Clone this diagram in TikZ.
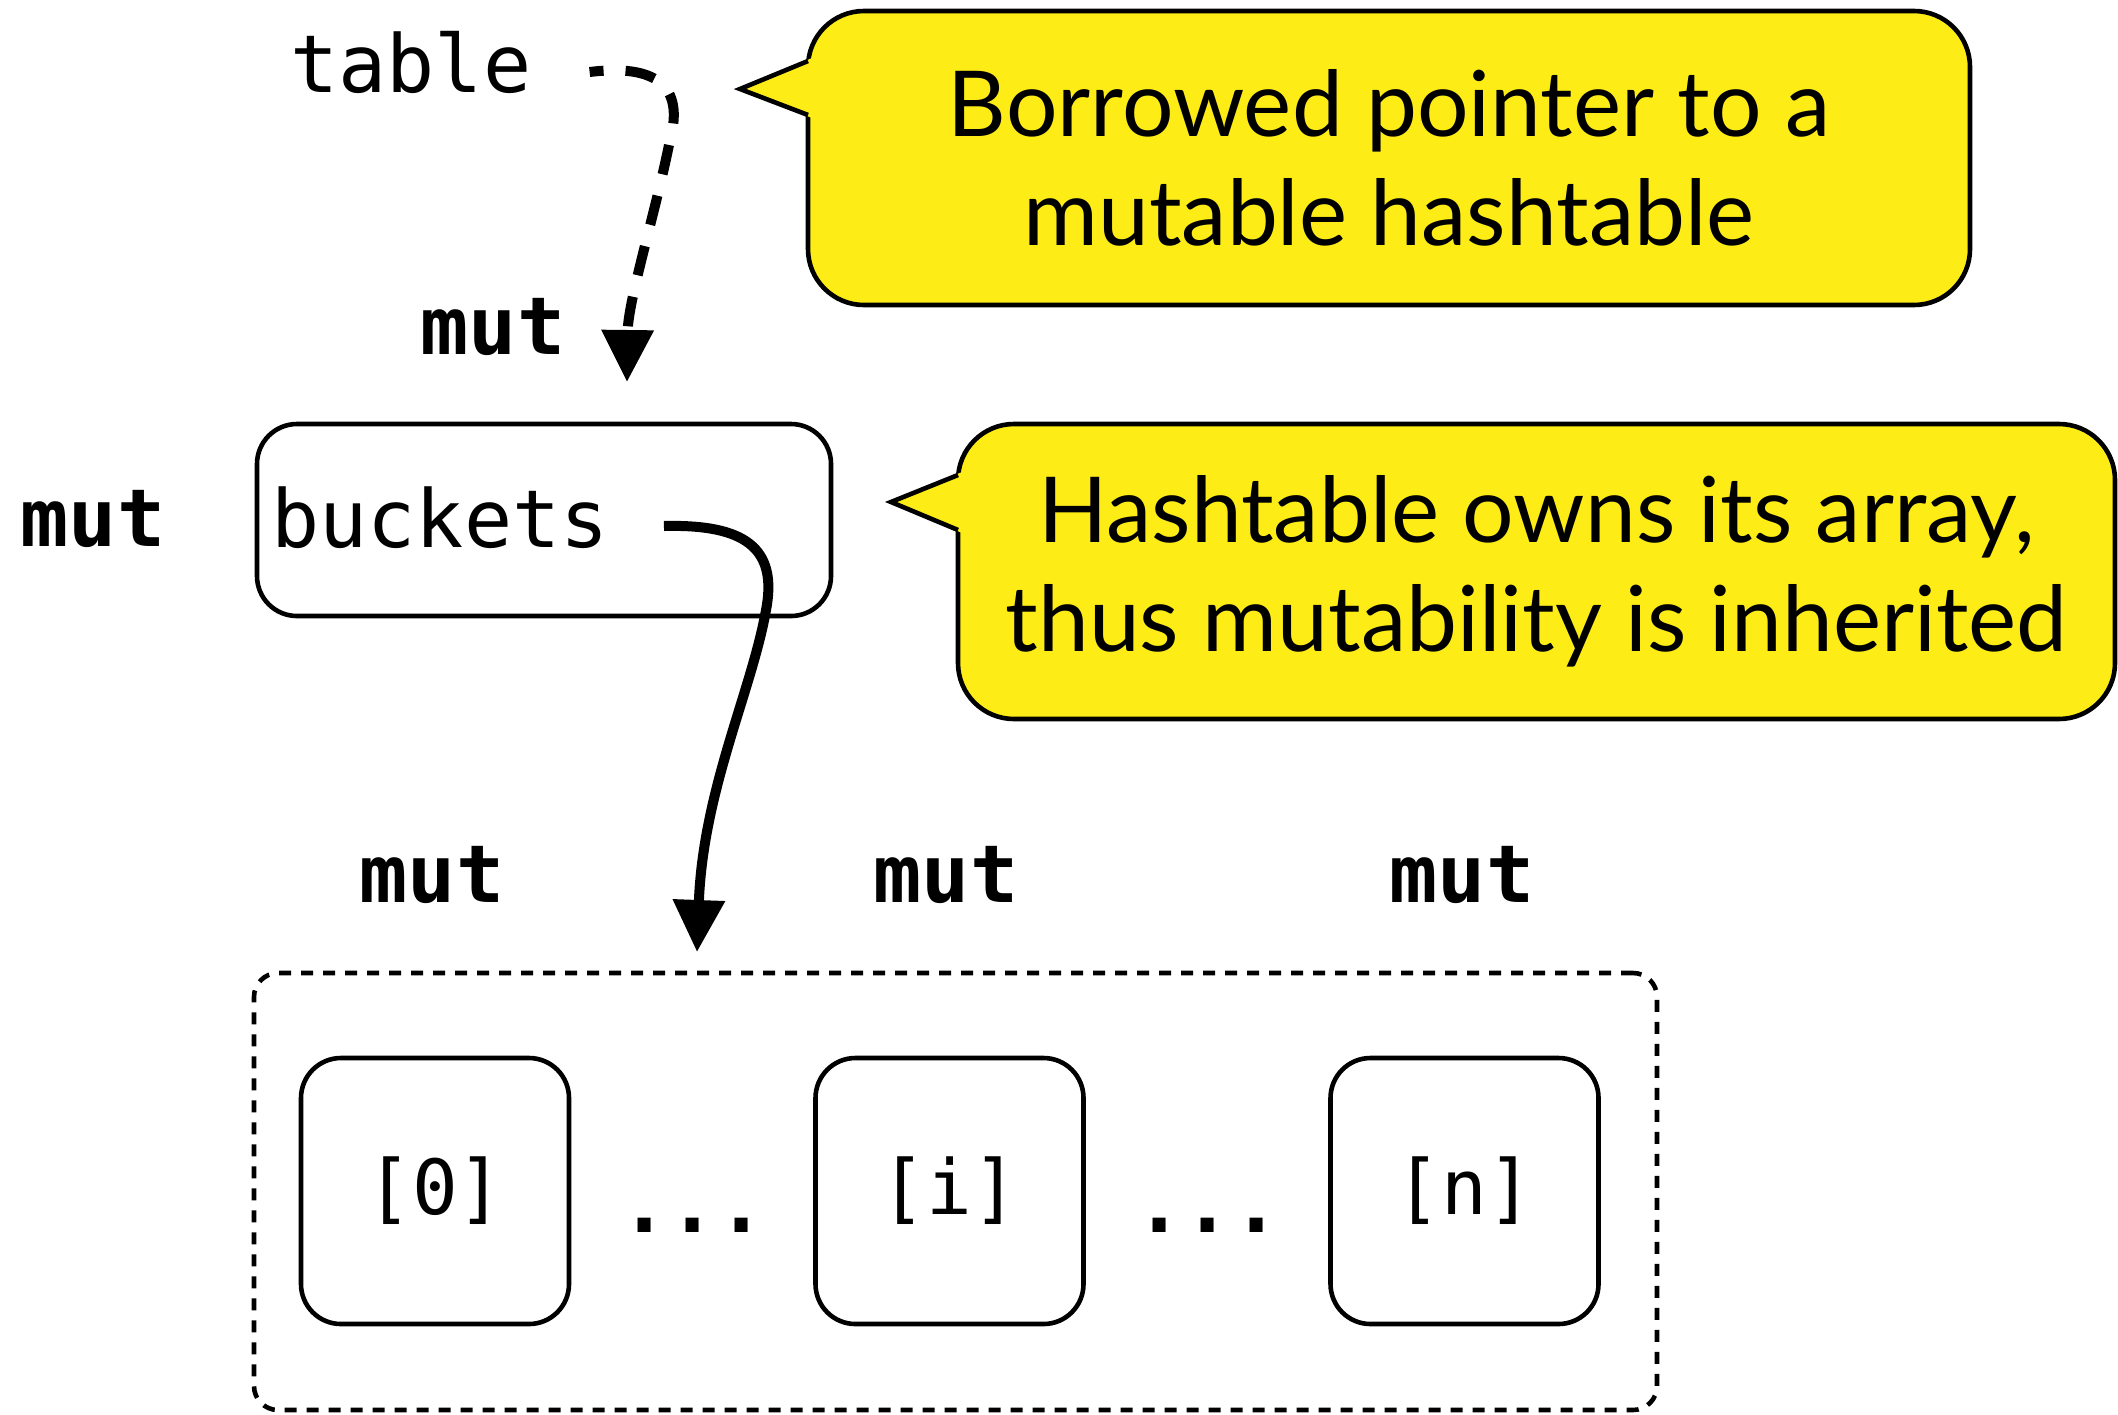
\documentclass[tikz,border=0pt]{standalone}
\usepackage{fontspec}
\setmainfont{Lato}
\setmonofont{DejaVu Sans Mono}
\usetikzlibrary{arrows.meta,calc}
\definecolor{noteyellow}{RGB}{253,236,22}

\begin{document}
\begin{tikzpicture}[x=0.5pt,y=-0.5pt,
  code/.style={font=\ttfamily\fontsize{40}{46}\selectfont, inner sep=0pt},
  kw/.style={font=\ttfamily\bfseries\fontsize{40}{46}\selectfont, inner sep=0pt},
  dots/.style={font=\ttfamily\bfseries\fontsize{40}{46}\selectfont, inner sep=0pt},
  box/.style={draw, line width=2.3pt, rounded corners=20pt, inner sep=0pt},
  cell/.style={box, minimum width=134pt, minimum height=133pt,
    font=\ttfamily\fontsize{38}{44}\selectfont},
  note/.style={draw, line width=2.3pt, fill=noteyellow, rounded corners=28pt,
    align=center, inner sep=0pt, font=\fontsize{45.5}{54.5}\selectfont},
  notetip/.style={line width=2.3pt, line join=miter},
  ptr/.style={line width=5pt, -{Triangle[length=26pt,width=25pt]}},
]
\useasboundingbox (0,0) rectangle (2118,1414);

% borrowed reference
\node[code, anchor=base west] (table) at (290,92) {table};
\node[kw, anchor=base] (mutref) at (493,354) {mut};

% the hashtable struct
\node[kw, anchor=base] (mutfield) at (93,546) {mut};
\node[box, minimum width=287pt, minimum height=96pt] (bucketsbox) at (544,520) {};
\node[code, anchor=base west] (buckets) at (271,547) {buckets};

% the owned array
\node[box, dashed, dash pattern=on 6pt off 5pt, rounded corners=12pt,
  minimum width=701.5pt, minimum height=218.5pt] (array) at (955.5,1191.5) {};
\node[cell] (c0) at (435,1191) {[0]};
\node[cell] (ci) at (949.5,1191) {[i]};
\node[cell] (cn) at (1464.5,1191) {[n]};
\node[dots, anchor=base] (dots1) at (693,1232) {...};
\node[dots, anchor=base] (dots2) at (1208,1232) {...};
\node[kw, anchor=base] (mut0) at (432,902) {mut};
\node[kw, anchor=base] (muti) at (946,902) {mut};
\node[kw, anchor=base] (mutn) at (1462,902) {mut};

% connectors
\coordinate (reftip) at (627,382);
\draw[ptr, dash pattern=on 15pt off 11pt, dash phase=8pt]
  ([shift={(58,-20)}]table.base east)
  .. controls (655,64) and (685,85) .. (670,140)
  .. controls (655,215) and (628,300) .. (reftip);
\coordinate (arraytip) at (697,952);
\draw[ptr] ([shift={(55,-21)}]buckets.base east)
  .. controls (745,524) and (778,548) .. (766,610)
  .. controls (752,690) and (703,790) .. (arraytip);

% callouts
\node[note, minimum width=581pt, minimum height=147pt] (note1) at (1389,158)
  {Borrowed pointer to a\\mutable hashtable};
\fill[noteyellow] (812,58) -- (740,89) -- (812,118) -- cycle;
\draw[notetip] (808,61) -- (740,89) -- (808,115);

\node[note, minimum width=578.5pt, minimum height=147.5pt] (note2) at (1536.5,571.5)
  {Hashtable owns its array,\\thus mutability is inherited};
\fill[noteyellow] (962,472) -- (891,502) -- (962,533) -- cycle;
\draw[notetip] (958,475) -- (891,502) -- (958,530);
\end{tikzpicture}
\end{document}
